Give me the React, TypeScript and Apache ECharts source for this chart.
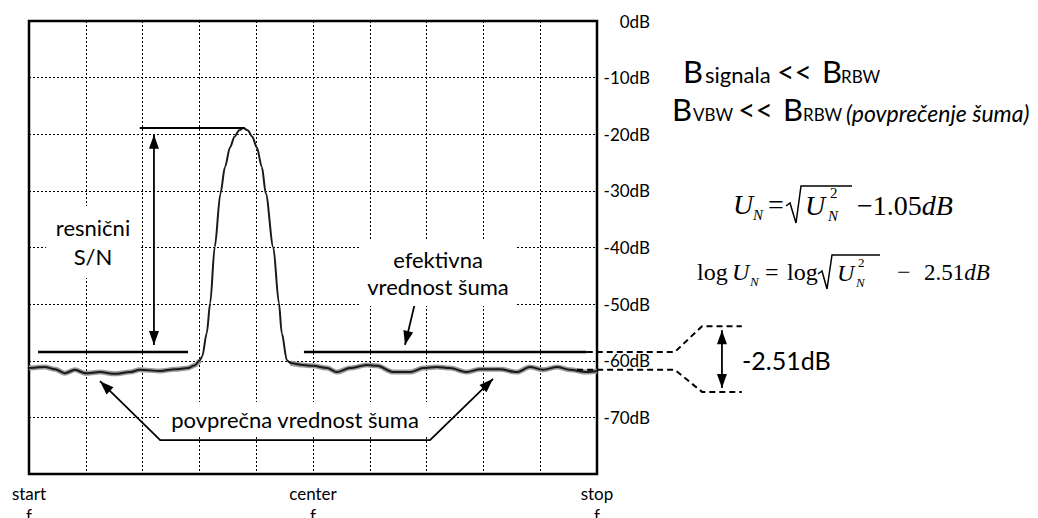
import React, { useEffect, useRef } from "react";
import * as echarts from "echarts";

// ---- data (x in screen divisions 0..10, y in dB) ----
const xLabels: Record<number, string> = { 0: "start\nf", 5: "center\nf", 10: "stop\nf" };

const noiseLeft: number[][] = [
  [0, -61.3], [0.28, -61.1], [0.46, -61.5], [0.63, -62.2], [0.81, -61.6], [0.99, -62.2],
  [1.25, -62.0], [1.51, -62.3], [1.78, -62.0], [1.95, -61.6], [2.31, -61.8], [2.57, -61.5],
  [2.80, -61.3], [2.92, -60.8], [3.01, -59.9],
];
const signalPeak: number[][] = [
  [3.05, -59.2], [3.13, -55.1], [3.19, -49.8], [3.27, -39.9], [3.37, -30.5], [3.45, -25.8],
  [3.54, -22.3], [3.62, -20.4], [3.70, -19.3], [3.77, -18.9], [3.85, -19.3], [3.93, -20.4],
  [4.01, -22.3], [4.10, -25.8], [4.17, -30.5], [4.30, -39.9], [4.40, -49.8], [4.45, -55.1],
  [4.54, -59.9],
];
const noiseRight: number[][] = [
  [4.60, -60.4], [4.82, -60.75], [5.00, -60.9], [5.25, -61.3], [5.42, -62.0], [5.65, -61.3],
  [5.95, -60.75], [6.13, -60.9], [6.41, -62.0], [6.71, -62.0], [6.94, -61.3], [7.18, -61.1],
  [7.41, -61.3], [7.71, -62.0], [7.94, -61.5], [8.29, -61.5], [8.59, -62.0], [8.82, -61.1],
  [9.05, -61.6], [9.30, -61.1], [9.52, -61.6], [9.82, -62.0], [10, -61.8],
];

// annotation values (data coordinates)
const peakLevel = -18.9;
const effLevel = -58.45;
const avgLevel = -61.6;
const peakLineX = [1.95, 3.8];
const effLeftX = [0.16, 2.8];
const effRightX = [4.84, 9.82];
const snArrowX = 2.2;
const snArrowY = [-57.2, -20.1];
const effArrow = [[6.8, -49.6], [6.62, -57.2]];
const callout = [[1.25, -63.6], [2.31, -74.0], [7.06, -74.0], [8.17, -63.2]];
const dashedUpper = [[9.82, effLevel], [11.37, effLevel], [11.85, -53.9], [12.55, -53.9]];
const dashedLower = [[9.65, avgLevel], [11.37, avgLevel], [11.85, -65.5], [12.55, -65.5]];
const diffArrowX = 12.2;
const diffArrowY = [-54.6, -64.8];

const SANS = "Lato";
const SERIF = "Liberation Serif";

export default function App() {
  const ref = useRef<HTMLDivElement>(null);
  useEffect(() => {
    const chart = echarts.init(ref.current!, null, { renderer: "svg" });
    const grid = { left: 29, top: 21, right: 441, bottom: 44 };
    const dotted = { color: "#000", type: [2, 2] as any, width: 1 };
    chart.setOption({
      animation: false,
      grid: {
        ...grid, show: true, borderColor: "#000", borderWidth: 2.5, backgroundColor: "#fff",
        containLabel: false, outerBoundsMode: "none",
      },
      xAxis: {
        type: "value", min: 0, max: 10, interval: 1,
        axisLine: { show: false }, axisTick: { show: false },
        splitLine: { show: true, lineStyle: dotted },
        axisLabel: {
          formatter: (v: number) => xLabels[v] ?? "",
          fontFamily: SANS, fontSize: 17, color: "#000", lineHeight: 22, margin: 8,
          showMaxLabel: true, showMinLabel: true,
        },
      },
      yAxis: {
        type: "value", min: -80, max: 0, interval: 10, position: "right",
        axisLine: { show: false }, axisTick: { show: false },
        splitLine: { show: true, lineStyle: dotted },
        axisLabel: {
          formatter: (v: number) => (v === -80 ? "" : `${v}dB`),
          fontFamily: SANS, fontSize: 17, color: "#000", align: "right", margin: 53,
        },
      },
      series: [
        { type: "line", data: noiseLeft, symbol: "none", smooth: 0.3, smoothMonotone: "x",
          lineStyle: { color: "#9a9a9a", width: 5 }, z: 3 },
        { type: "line", data: noiseRight, symbol: "none", smooth: 0.3, smoothMonotone: "x",
          lineStyle: { color: "#9a9a9a", width: 5 }, z: 3 },
        { type: "line", data: [...noiseLeft, ...signalPeak, ...noiseRight], symbol: "none",
          smooth: 0.3, smoothMonotone: "x", lineStyle: { color: "#1a1a1a", width: 2 }, z: 4 },
      ],
    });

    const P = (p: number[]) => chart.convertToPixel({ gridIndex: 0 }, p) as number[];
    const line = (pts: number[][], w = 2, dash?: number[]) => ({
      type: "polyline", z: 20, silent: true,
      shape: { points: pts.map(P) },
      style: { stroke: "#000", lineWidth: w, fill: null, lineDash: dash },
    });
    const head = (fromD: number[], toD: number[], len = 14, half = 5) => {
      const f = P(fromD), t = P(toD);
      const dx = t[0] - f[0], dy = t[1] - f[1];
      const L = Math.hypot(dx, dy), ux = dx / L, uy = dy / L;
      const bx = t[0] - ux * len, by = t[1] - uy * len;
      return {
        type: "polygon", z: 21, silent: true,
        shape: { points: [[t[0], t[1]], [bx - uy * half, by + ux * half], [bx + uy * half, by - ux * half]] },
        style: { fill: "#000" },
      };
    };
    const txt = (text: string, x: number, y: number, size: number, extra: any = {}) => ({
      type: "text", x, y, z: 25, silent: true,
      style: {
        text, fontFamily: SANS, fontSize: size, fill: "#000", align: "left", verticalAlign: "middle",
        ...extra,
      },
    });
    const serif = (text: string, x: number, y: number, size: number, italic = false) =>
      txt(text, x, y, size, { fontFamily: SERIF, fontStyle: italic ? "italic" : "normal" });
    const radical = (pts: number[][]) => ({
      type: "polyline", z: 20, silent: true, shape: { points: pts },
      style: { stroke: "#000", lineWidth: 1.5, fill: null },
    });

    const snFrom = [snArrowX, snArrowY[0]], snTo = [snArrowX, snArrowY[1]];
    const dFrom = [diffArrowX, diffArrowY[0]], dTo = [diffArrowX, diffArrowY[1]];

    const elements: any[] = [
      // level lines
      line([[peakLineX[0], peakLevel], [peakLineX[1], peakLevel]], 1.8),
      line([[effLeftX[0], effLevel], [effLeftX[1], effLevel]], 2.5),
      line([[effRightX[0], effLevel], [effRightX[1], effLevel]], 2.5),
      line(dashedUpper, 2, [6, 4]),
      line(dashedLower, 2, [6, 4]),
      // S/N double arrow
      line([snFrom, snTo], 1.8),
      head(snFrom, snTo), head(snTo, snFrom),
      // effective value arrow
      line(effArrow, 1.8), head(effArrow[0], effArrow[1]),
      // callout
      line(callout, 1.8),
      head(callout[1], callout[0]), head(callout[2], callout[3]),
      // -2.51 dB arrow
      line([dFrom, dTo], 1.8), head(dFrom, dTo), head(dTo, dFrom),
      // annotation texts
      txt("resnični\nS/N", 93, 242, 22, { align: "center", lineHeight: 29, backgroundColor: "#fff", padding: [7, 10] }),
      txt("efektivna\nvrednost šuma", 438, 273, 22, { align: "center", lineHeight: 27, backgroundColor: "#fff", padding: [6, 8] }),
      txt("povprečna vrednost šuma", 295, 419, 22, { align: "center", backgroundColor: "#fff", padding: [6, 10] }),
      txt("-2.51dB", 742, 360, 25),
      // header line 1
      txt("B", 683, 71, 31), txt("signala", 705, 74, 22), txt("<<", 777, 71, 30),
      txt("B", 822, 71, 31), txt("RBW", 841, 76, 17),
      // header line 2
      txt("B", 672, 109, 31), txt("VBW", 693, 114, 17), txt("<<", 738, 109, 30),
      txt("B", 783, 109, 31), txt("RBW", 803, 114, 17),
      txt("(povprečenje šuma)", 846, 113, 23, { fontStyle: "italic" }),
      // formula 1
      serif("U", 733, 204, 28, true), serif("N", 753, 215, 15, true), serif("=", 768, 204, 28),
      radical([[786, 206], [790, 203], [796, 223], [801, 186], [852, 186]]),
      serif("U", 805, 205, 28, true), serif("2", 830, 193, 15), serif("N", 828, 216, 15, true),
      txt("{r|−1.05}{i|dB}", 857, 205, 28, { rich: { r: { fontFamily: SERIF, fontSize: 28 }, i: { fontFamily: SERIF, fontSize: 28, fontStyle: "italic" } } }),
      // formula 2
      serif("log", 697, 272, 24), serif("U", 732, 272, 24, true), serif("N", 750, 281, 13, true),
      serif("=", 765, 272, 24), serif("log", 787, 272, 24),
      radical([[818, 274], [822, 271], [827, 289], [832, 255], [880, 255]]),
      serif("U", 837, 273, 24, true), serif("2", 858, 262, 13), serif("N", 856, 282, 13, true),
      serif("−", 897, 272, 24),
      txt("{r|2.51}{i|dB}", 924, 272, 23, { rich: { r: { fontFamily: SERIF, fontSize: 23 }, i: { fontFamily: SERIF, fontSize: 23, fontStyle: "italic" } } }),
    ];
    chart.setOption({ graphic: { elements } });
    return () => chart.dispose();
  }, []);
  return <div ref={ref} style={{ position: "fixed", left: 0, top: 0, width: 1038, height: 518, background: "#fff" }} />;
}
